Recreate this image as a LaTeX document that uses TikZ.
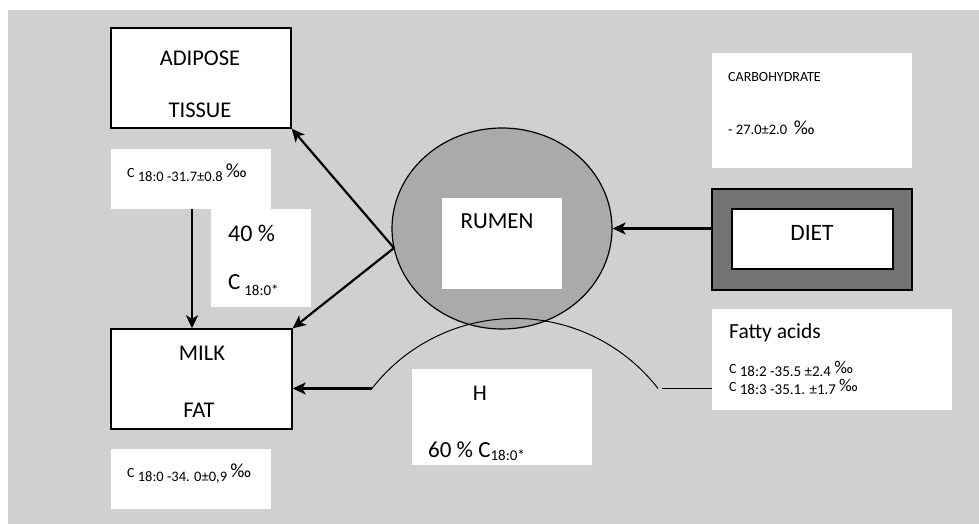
\documentclass[tikz,border=0pt]{standalone}
\usepackage{fontspec}
\setmainfont{Carlito}
\usetikzlibrary{shapes.geometric,arrows.meta,fit}
\definecolor{bg}{RGB}{208,208,208}
\definecolor{rumenfill}{RGB}{170,170,170}
\definecolor{dietfill}{RGB}{115,115,115}
\newcommand{\fs}[1]{\fontsize{#1}{#1}\selectfont}
\tikzset{
  wbox/.style={fill=white, draw=none, inner sep=0pt},
  bbox/.style={fill=white, draw=black, line width=1.4pt, inner sep=0pt},
  txt/.style={inner sep=0pt},
  big/.style={font=\fs{22.5}},
  arr/.style={line width=2.2pt, -{Stealth[length=13pt,width=12pt,inset=3.5pt]}},
  thin/.style={line width=1pt},
}
\begin{document}
\begin{tikzpicture}[x=1pt,y=-1pt]
\useasboundingbox (0,0) rectangle (979,524);
\fill[bg] (8,10) rectangle (979,524);

% boxes
\node[bbox, fit={(111,28)(291,128)}] (adipose) {};
\node[wbox, fit={(111,149)(271,209)}] (topc) {};
\node[wbox, fit={(211,209)(311,307)}] (forty) {};
\node[bbox, fit={(111,329)(292,429)}] (milk) {};
\node[wbox, fit={(111,449)(271,509)}] (botc) {};
\node[wbox, fit={(712,53)(912,168)}] (carbo) {};
\node[draw=black, fill=dietfill, line width=1.4pt, inner sep=0pt, fit={(712,189)(912,290)}] (dietout) {};
\node[bbox, fit={(732,209)(893,269)}] (dietin) {};
\node[wbox, fit={(712,309)(952,410)}] (fatty) {};
\node[wbox, fit={(412,369)(592,465)}] (hbox) {};

% rumen
\node[ellipse, draw=black, line width=1.2pt, fill=rumenfill, inner sep=0pt,
      minimum width=220pt, minimum height=201pt] (rumen) at (502,228.5) {};
\coordinate (arcL) at (372,388.5);
\coordinate (arcR) at (662,388.5);
\draw[thin] (arcL) arc[start angle=142.2, end angle=37.8, radius=181pt];
\draw[thin] (arcR) -- (arcR -| fatty.west);
\node[wbox, fit={(442,198)(562,289)}] (rumenbox) {};

% texts
\node[txt, big] (tadipose) at (200,58) {ADIPOSE};
\node[txt, big] (ttissue) at (200,110) {TISSUE};
\node[txt, big] (tmilk) at (202,353) {MILK};
\node[txt, big] (tfat) at (199,410) {FAT};
\node[txt, font=\fs{23}] (trumen) at (497,221) {RUMEN};
\node[txt, font=\fs{23.5}] (tdiet) at (812,233) {DIET};
\node[txt, big] (th) at (480,393) {H};

\node[txt, anchor=base west] (t40) at (228,241) {\fs{24}40 \%};
\node[txt, anchor=base west] (t40c) at (228,289) {\fs{23}C\,\raisebox{-6pt}{\fs{15}18:0*}};
\node[txt, anchor=base west] (t60) at (428,457) {\fs{23}60 \% C\raisebox{-3.5pt}{\fs{15}18:0*}};

\node[txt, anchor=base west] (ttop) at (127,177) {\fs{14}C \raisebox{-4.5pt}{\fs{14.5}18:0 -31.7±0.8} {\fs{20}‰}};
\node[txt, anchor=base west] (tbot) at (127,477) {\fs{14}C \raisebox{-4.5pt}{\fs{14.5}18:0 -34. 0±0,9} {\fs{20}‰}};

\node[txt, anchor=base west] (tcarbo) at (728,82) {\fs{14}CARBOHYDRATE};
\node[txt, anchor=base west] (tcarbo2) at (728,135) {\fs{14.5}- 27.0±2.0\ \ {\fs{20}‰}};

\node[txt, anchor=base west] (tfa) at (729,338) {\fs{21.5}Fatty acids};
\node[txt, anchor=base west] (tfa1) at (729,373) {\fs{14}C \raisebox{-3pt}{\fs{15}18:2 -35.5 ±2.4} {\fs{18}‰}};
\node[txt, anchor=base west] (tfa2) at (729,391) {\fs{14}C \raisebox{-3pt}{\fs{15}18:3 -35.1. ±1.7} {\fs{18}‰}};

% connectors
\coordinate (v) at (394,248);
\draw[arr] (v) -- (adipose.south east);
\draw[arr] (v) -- (milk.north east);
\coordinate (d1) at (192,209);
\draw[arr] (d1) -- (d1 |- milk.north);
\draw[arr] (rumen.east -| dietout.west) -- (rumen.east);
\draw[arr] (arcL) -- (arcL -| milk.east);
\end{tikzpicture}
\end{document}
